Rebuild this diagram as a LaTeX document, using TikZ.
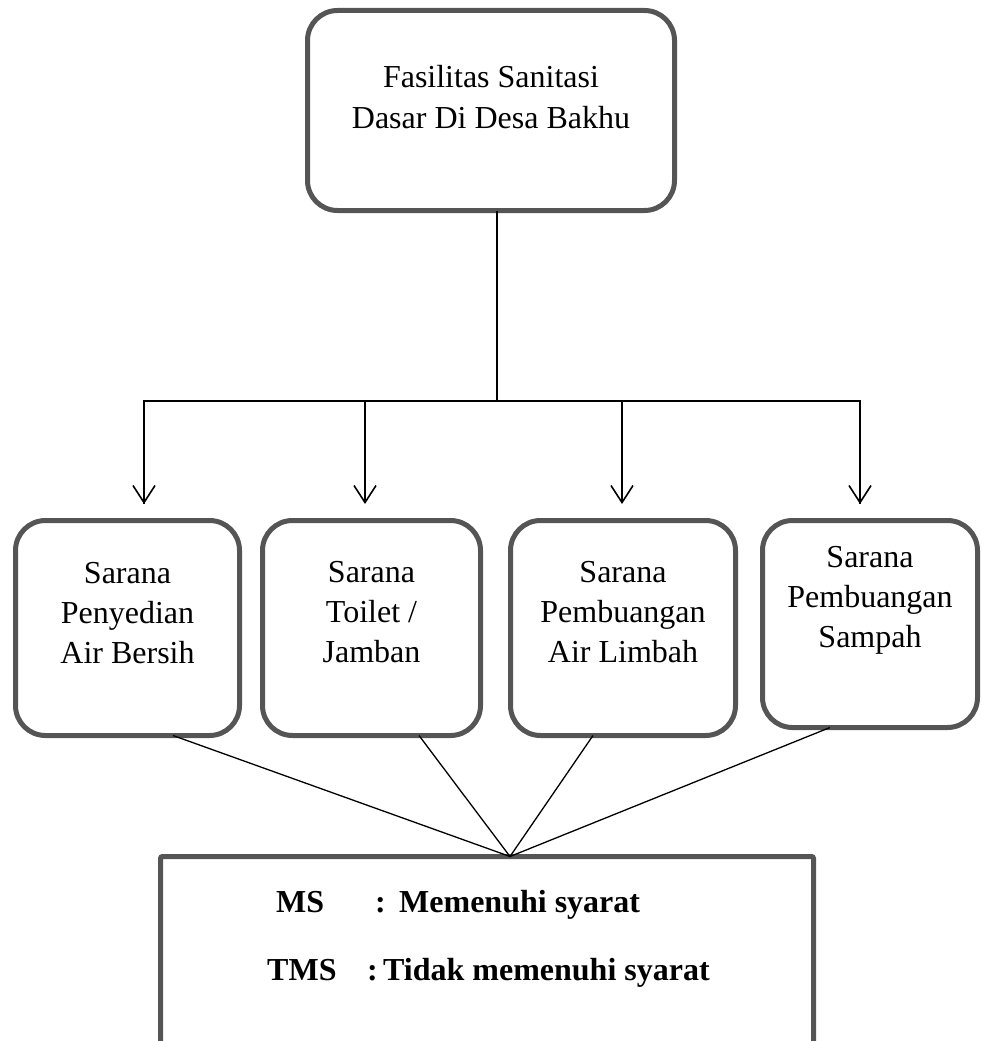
\documentclass[tikz,border=0pt]{standalone}
\usepackage{fontspec}
\setmainfont{Liberation Serif}
\usetikzlibrary{arrows.meta,calc}
\definecolor{boxgray}{HTML}{555555}
\begin{document}
\begin{tikzpicture}[x=1pt,y=-1pt,
  rbox/.style={draw=boxgray,line width=5pt,rounded corners=30pt,inner sep=0pt,outer sep=0pt},
  lbl/.style={font=\fontsize{32}{40}\selectfont,align=center,inner sep=0pt,anchor=base},
  arr/.style={line width=1.6pt,-{Straight Barb[length=17pt,width=22pt,line width=1.6pt]}},
  ln/.style={line width=1.3pt},
  key/.style={font=\fontsize{32}{40}\selectfont\bfseries,inner sep=0pt,anchor=base west}]
\useasboundingbox (0,0) rectangle (982,1041);
\clip (0,0) rectangle (982,1041);
% top box
\node[rbox,minimum width=367pt,minimum height=200pt] (top) at (491,110.5) {};
\node[lbl,font=\fontsize{32}{41}\selectfont] (ttop) at (491,128) {Fasilitas Sanitasi\\Dasar Di Desa Bakhu};
% four boxes
\node[rbox,minimum width=224pt,minimum height=215pt] (b1) at (127.5,628) {};
\node[rbox,minimum width=218pt,minimum height=215pt] (b2) at (371.5,628) {};
\node[rbox,minimum width=225pt,minimum height=215pt] (b3) at (623,628) {};
\node[rbox,minimum width=215pt,minimum height=207pt] (b4) at (870,624) {};
\node[lbl] (t1) at (127.5,663) {Sarana\\Penyedian\\Air Bersih};
\node[lbl] (t2) at (371.5,662) {Sarana\\Toilet /\\Jamban};
\node[lbl] (t3) at (623,662) {Sarana\\Pembuangan\\Air Limbah};
\node[lbl] (t4) at (870,647) {Sarana\\Pembuangan\\Sampah};
% legend box
\node[draw=boxgray,line width=5pt,rounded corners=2pt,minimum width=653pt,minimum height=260pt,anchor=north west,inner sep=0pt,outer sep=0pt] (legend) at (160.5,856.5) {};
\node[key] (ms) at (276,912) {MS};
\node[key] (mscol) at (375,912) {:};
\node[key] (msdef) at (399,912) {Memenuhi syarat};
\node[key] (tms) at (267,980) {TMS};
\node[key] (tmscol) at (367,980) {:};
\node[key] (tmsdef) at (383,980) {Tidak memenuhi syarat};
% connectors
\coordinate (hub) at ($(top.south)+(6,190.5)$);
\draw[line width=1.6pt] ($(top.south)+(6,0)$) -- (hub);
\draw[line width=1.6pt] (hub) -| ($(b1.north)+(16.5,-16.5)$);
\draw[line width=1.6pt] (hub) -| ($(b4.north)+(-10,-16.5)$);
\draw[arr] ($(b1.north)+(16.5,-119.5)$) -- ($(b1.north)+(16.5,-16.5)$);
\draw[arr] ($(b2.north)+(-6.5,-119.5)$) -- ($(b2.north)+(-6.5,-16.5)$);
\draw[arr] ($(b3.north)+(-1,-119.5)$) -- ($(b3.north)+(-1,-16.5)$);
\draw[arr] ($(b4.north)+(-10,-119.5)$) -- ($(b4.north)+(-10,-16.5)$);
\coordinate (meet) at ($(legend.north west)+(349.5,0)$);
\draw[ln] ($(b1.south)+(45.5,0)$) -- (meet);
\draw[ln] ($(b2.south)+(47.5,0)$) -- (meet);
\draw[ln] ($(b3.south)+(-30,0)$) -- (meet);
\draw[ln] ($(b4.south)+(-40,0)$) -- (meet);
\end{tikzpicture}
\end{document}
